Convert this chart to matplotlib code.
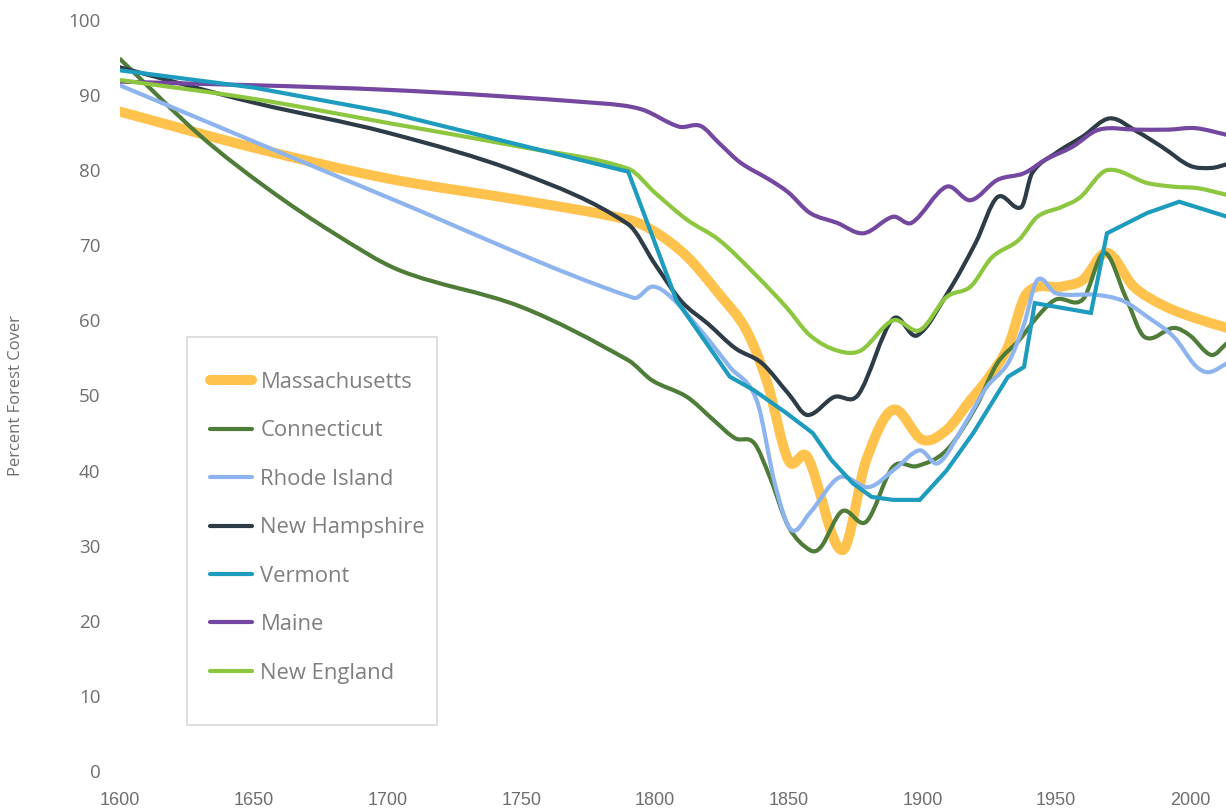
import numpy as np
import matplotlib
matplotlib.use("Agg")
import matplotlib.pyplot as plt
from matplotlib.path import Path
from matplotlib.patches import PathPatch, Rectangle
from matplotlib.lines import Line2D
from matplotlib import font_manager

# forest cover readings (percent) by year
ma_years = [1600, 1650, 1700, 1750, 1790, 1800, 1812, 1824, 1834, 1842, 1850, 1857, 1870, 1879,
            1889, 1900, 1909, 1918, 1925, 1932, 1939, 1952, 1960, 1969, 1979, 1990, 2002, 2014]
ma_vals = [87.8, 83.0, 78.9, 76.0, 73.4, 71.8, 68.5, 63.5, 58.8, 51.7, 41.3, 41.8, 29.4, 41.4,
           48.1, 44.1, 45.4, 49.4, 52.5, 56.5, 63.6, 64.5, 65.4, 69.0, 64.5, 62.0, 60.3, 59.0]

ct_years = [1600, 1630, 1655, 1680, 1705, 1750, 1790, 1799, 1812, 1822, 1830, 1837, 1843, 1850,
            1858, 1862, 1870, 1879, 1889, 1898, 1909, 1920, 1928, 1936, 1943, 1950, 1960, 1968,
            1976, 1983, 1994, 2000, 2008, 2014]
ct_vals = [94.8, 84.6, 77.6, 71.6, 66.6, 61.8, 54.7, 52.0, 49.8, 46.7, 44.3, 43.7, 39.1, 32.5,
           29.4, 29.8, 34.6, 33.2, 40.5, 40.6, 42.7, 48.5, 54.3, 57.3, 60.5, 62.8, 62.8, 69.0,
           63.1, 57.8, 59.0, 58.0, 55.4, 57.0]

ri_years = [1600, 1700, 1792, 1799, 1806, 1818, 1828, 1838, 1845, 1851, 1858, 1869, 1880, 1890,
            1899, 1906, 1916, 1924, 1932, 1938, 1943, 1950, 1965, 1975, 1984, 1994, 2002, 2007, 2014]
ri_vals = [91.3, 76.4, 63.0, 64.5, 63.1, 58.3, 53.8, 49.4, 38.0, 32.1, 34.4, 39.1, 37.8, 40.3,
           42.7, 41.0, 46.3, 51.1, 54.3, 59.5, 65.4, 63.6, 63.4, 62.6, 60.5, 57.8, 54.0, 53.1, 54.3]

nh_years = [1600, 1650, 1700, 1750, 1790, 1800, 1810, 1820, 1830, 1840, 1850, 1857, 1867, 1876,
            1889, 1898, 1910, 1920, 1928, 1937, 1941, 1950, 1960, 1970, 1980, 1990, 2000, 2008, 2014]
nh_vals = [93.7, 89.0, 85.0, 79.6, 72.8, 67.5, 62.5, 59.5, 56.3, 54.3, 50.2, 47.4, 49.8, 50.1,
           60.2, 58.0, 64.0, 70.4, 76.4, 75.1, 79.6, 82.3, 84.5, 86.9, 85.2, 83.0, 80.6, 80.3, 80.8]

vt_years = [1600, 1650, 1700, 1790, 1808, 1828, 1837, 1849, 1859, 1866, 1874, 1881, 1889, 1899,
            1909, 1919, 1932, 1938, 1942, 1963, 1969, 1984, 1996, 2014]
vt_vals = [93.3, 91.0, 87.7, 79.8, 62.7, 52.5, 50.7, 47.7, 45.0, 41.4, 38.3, 36.5, 36.1, 36.1,
           40.0, 45.0, 52.5, 53.8, 62.3, 61.0, 71.6, 74.3, 75.8, 73.8]

me_years = [1600, 1700, 1780, 1795, 1809, 1817, 1824, 1832, 1843, 1850, 1858, 1868, 1878, 1889,
            1896, 1909, 1918, 1928, 1938, 1946, 1956, 1966, 1980, 1992, 2002, 2014]
me_vals = [91.8, 90.7, 88.9, 88.1, 85.8, 85.9, 83.6, 81.0, 78.7, 77.0, 74.3, 73.0, 71.6, 73.8,
           73.0, 77.8, 76.0, 78.7, 79.6, 81.4, 83.1, 85.4, 85.4, 85.4, 85.6, 84.7]

ne_years = [1600, 1650, 1700, 1750, 1790, 1800, 1812, 1824, 1837, 1849, 1858, 1868, 1877, 1889,
            1899, 1909, 1918, 1926, 1936, 1943, 1952, 1959, 1969, 1984, 1994, 2003, 2014]
ne_vals = [92.0, 89.5, 86.3, 83.1, 80.2, 77.0, 73.4, 70.7, 66.3, 61.8, 58.0, 56.0, 56.0, 60.0,
           58.7, 63.1, 64.5, 68.4, 70.7, 73.8, 75.1, 76.4, 80.0, 78.3, 77.8, 77.6, 76.7]

names = ["Massachusetts", "Connecticut", "Rhode Island", "New Hampshire",
         "Vermont", "Maine", "New England"]
colors = ["#FFC24D", "#4F7C38", "#8DB4EE", "#2E3C47", "#1E9CBE", "#7448A0", "#8DC63F"]
series = [(ma_years, ma_vals), (ct_years, ct_vals), (ri_years, ri_vals), (nh_years, nh_vals),
          (vt_years, vt_vals), (me_years, me_vals), (ne_years, ne_vals)]
widths = [7.2, 3, 3, 3, 3, 3, 3]
smoothed = [True, True, True, True, False, True, True]


def pick(*fams):
    have = {f.name for f in font_manager.fontManager.ttflist}
    for f in fams:
        if f in have:
            return f
    return "DejaVu Sans"


narrow = pick("Liberation Sans Narrow", "DejaVu Sans Condensed", "Liberation Sans")
body = pick("Open Sans", "DejaVu Sans")
grey = "#6e6e6e"


def smooth_path(x, y):
    # cubic hermite curve through the points, written as bezier segments
    x = np.asarray(x, float)
    y = np.asarray(y, float)
    n = len(x)
    m = np.empty(n)
    m[1:-1] = (y[2:] - y[:-2]) / (x[2:] - x[:-2])
    m[0] = (y[1] - y[0]) / (x[1] - x[0])
    m[-1] = (y[-1] - y[-2]) / (x[-1] - x[-2])
    verts = [(x[0], y[0])]
    codes = [Path.MOVETO]
    for i in range(n - 1):
        h = x[i + 1] - x[i]
        verts += [(x[i] + h / 3, y[i] + m[i] * h / 3),
                  (x[i + 1] - h / 3, y[i + 1] - m[i + 1] * h / 3),
                  (x[i + 1], y[i + 1])]
        codes += [Path.CURVE4] * 3
    return Path(verts, codes)


fig = plt.figure(figsize=(12.26, 8.11), dpi=100)
ax = fig.add_axes([120 / 1226, 40 / 811, 1106 / 1226, 751 / 811])

for (yr, v), c, lw, sm in zip(series, colors, widths, smoothed):
    if sm:
        ax.add_patch(PathPatch(smooth_path(yr, v), fill=False, ec=c, lw=lw,
                               capstyle="round", joinstyle="round"))
    else:
        ax.plot(yr, v, color=c, lw=lw, solid_joinstyle="miter")

ax.set_xlim(1600, 2013.5)
ax.set_ylim(0, 100)
ax.set_xticks(range(1600, 2001, 50))
ax.set_yticks(range(0, 101, 10))
for s in ax.spines.values():
    s.set_visible(False)
ax.tick_params(length=0)
ax.tick_params(axis="y", pad=14, labelcolor=grey)
ax.tick_params(axis="x", pad=15, labelcolor=grey)
for t in ax.get_yticklabels():
    t.set_fontfamily(body)
    t.set_fontsize(13.5)
for t in ax.get_xticklabels():
    t.set_fontfamily(narrow)
    t.set_fontsize(13)

ax.set_ylabel("Percent Forest Cover", family=body, fontsize=12, color=grey)
ax.yaxis.set_label_coords(-0.087, 0.5)

# legend box
fig.add_artist(Rectangle((187 / 1226, 1 - 725 / 811), 250 / 1226, 388 / 811,
                         transform=fig.transFigure, fc="white", ec="#d9d9d9", lw=1.2, zorder=3))
handles = [Line2D([], [], color=c, lw=lw, solid_capstyle="round") for c, lw in zip(colors, widths)]
leg = fig.legend(handles, names, loc="upper left", bbox_to_anchor=(210 / 1226, 1 - 372 / 811),
                 frameon=False, borderpad=0, borderaxespad=0, handlelength=1.9,
                 handletextpad=0.4, labelspacing=1.25,
                 prop={"family": body, "size": 15.8})
leg.set_zorder(4)
for t in leg.get_texts():
    t.set_color("#7f7f7f")

fig.savefig("out.png", dpi=100, facecolor="white")
